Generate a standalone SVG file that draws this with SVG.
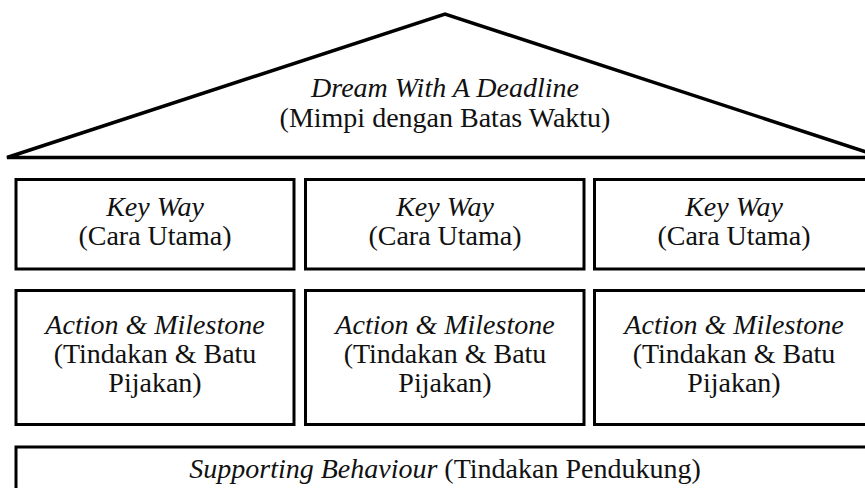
<svg xmlns="http://www.w3.org/2000/svg" width="865" height="488" viewBox="0 0 865 488">
  <style>
    .frame { fill: #ffffff; stroke: #000000; stroke-width: 3; }
    .roof { fill: #ffffff; stroke: #000000; stroke-width: 3.5; stroke-linejoin: miter; }
    .lbl { font-family: "Liberation Serif", "Times New Roman", serif; font-size: 28px; fill: #111111; text-anchor: middle; }
    .it { font-style: italic; }
  </style>
  <rect width="865" height="488" fill="#ffffff"/>

  <!-- roof -->
  <g id="roof">
    <polygon class="roof" points="7,157.5 445,14 883,157.5"/>
    <text class="lbl it" x="445" y="97">Dream With A Deadline</text>
    <text class="lbl" x="445" y="127">(Mimpi dengan Batas Waktu)</text>
  </g>

  <!-- key ways -->
  <g id="keyway-1">
    <rect class="frame" x="16" y="179.5" width="278" height="89.5"/>
    <text class="lbl it" x="155" y="216">Key Way</text>
    <text class="lbl" x="155" y="245">(Cara Utama)</text>
  </g>
  <g id="keyway-2">
    <rect class="frame" x="305.5" y="179.5" width="278.5" height="89.5"/>
    <text class="lbl it" x="445" y="216">Key Way</text>
    <text class="lbl" x="445" y="245">(Cara Utama)</text>
  </g>
  <g id="keyway-3">
    <rect class="frame" x="594.5" y="179.5" width="279" height="89.5"/>
    <text class="lbl it" x="734" y="216">Key Way</text>
    <text class="lbl" x="734" y="245">(Cara Utama)</text>
  </g>

  <!-- actions and milestones -->
  <g id="action-1">
    <rect class="frame" x="16" y="290.5" width="278" height="134"/>
    <text class="lbl it" x="155" y="334">Action &amp; Milestone</text>
    <text class="lbl" x="155" y="363">(Tindakan &amp; Batu</text>
    <text class="lbl" x="155" y="392">Pijakan)</text>
  </g>
  <g id="action-2">
    <rect class="frame" x="305.5" y="290.5" width="278.5" height="134"/>
    <text class="lbl it" x="445" y="334">Action &amp; Milestone</text>
    <text class="lbl" x="445" y="363">(Tindakan &amp; Batu</text>
    <text class="lbl" x="445" y="392">Pijakan)</text>
  </g>
  <g id="action-3">
    <rect class="frame" x="594.5" y="290.5" width="279" height="134"/>
    <text class="lbl it" x="734" y="334">Action &amp; Milestone</text>
    <text class="lbl" x="734" y="363">(Tindakan &amp; Batu</text>
    <text class="lbl" x="734" y="392">Pijakan)</text>
  </g>

  <!-- foundation -->
  <g id="supporting">
    <rect class="frame" x="16" y="447" width="858" height="60"/>
    <text class="lbl" x="445" y="478"><tspan class="it">Supporting Behaviour</tspan> (Tindakan Pendukung)</text>
  </g>

  <g id="connectors"/>
</svg>
